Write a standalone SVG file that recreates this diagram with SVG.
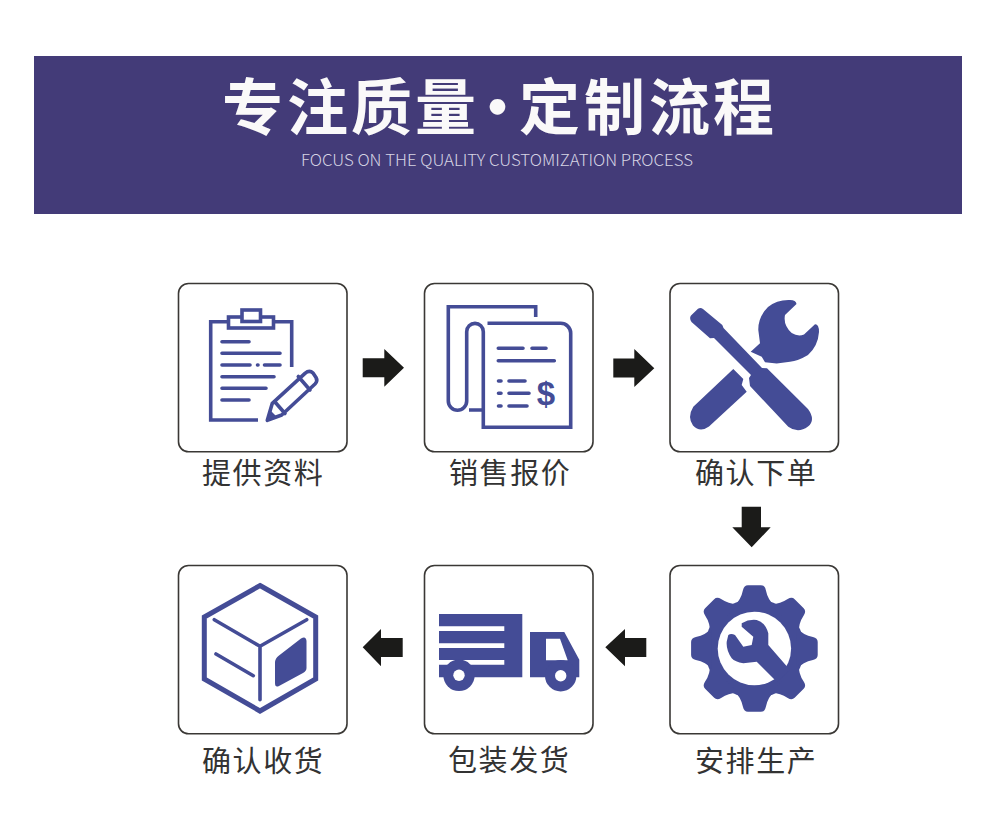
<svg xmlns="http://www.w3.org/2000/svg" xmlns:xlink="http://www.w3.org/1999/xlink" width="1000" height="838" viewBox="0 0 1000 838">
<style>
.box{fill:#fff;stroke:#3a3835;stroke-width:1.6}
.ln{fill:none;stroke:#444c96;stroke-width:3.6;stroke-linecap:round;stroke-linejoin:round}
.ln2{fill:none;stroke:#444c96;stroke-width:3.6;stroke-linecap:butt;stroke-linejoin:miter}
.fi{fill:#444c96}
.arr{fill:#1b1b19}
.lab{font-family:"Noto Sans CJK SC","Liberation Sans",sans-serif;font-size:29px;letter-spacing:1.6px;fill:#333}
</style>
<rect width="1000" height="838" fill="#fff"/>
<g id="banner">
<rect x="34" y="56" width="928" height="158" fill="#433b78"/>
<text x="222 287 351 415 467 519 584 649 713" y="130" font-family="'Noto Sans CJK SC',sans-serif" font-weight="700" font-size="61" fill="#faf9f9">专注质量·定制流程</text>
<text x="301" y="166" textLength="392" lengthAdjust="spacingAndGlyphs" font-family="'Noto Sans CJK SC','Liberation Sans',sans-serif" font-weight="300" font-size="16" fill="#d6d4e4">FOCUS ON THE QUALITY CUSTOMIZATION PROCESS</text>
</g>
<g id="connectors">
<path class="arr" d="M362.7 358.3H384.3V349L404 367.7 384.3 386.7V377.3H362.7Z"/>
<path class="arr" d="M613.3 358.5H634.3V349L654.3 368.3 634.3 387V377.5H613.3Z"/>
<path class="arr" d="M741.7 506.7H761V527.3H770.7L751.7 547.3 732.3 527.3H741.7Z"/>
<path class="arr" d="M646.3 638H625V629L605.3 647.3 625 666.3V657H646.3Z"/>
<path class="arr" d="M402.7 638H381V629L362.7 647.3 381 666.3V657H402.7Z"/>
</g>
<g id="node-1">
<rect class="box" x="178.5" y="283.5" width="168.5" height="168.3" rx="10"/>
<path class="ln2" d="M291.7 367V321.7H274M227.7 321.7H210.7V420H258"/>
<rect class="ln2" x="228.5" y="317" width="45" height="11"/>
<rect class="ln2" x="242" y="310" width="18.5" height="11.5" style="fill:#fff"/>
<path class="ln" d="M222 341.7H249M222 353.3H280M222 365H250M257.5 365H258M264.5 365H280M222 376.7H274M222 388.3H266M222 400H249"/>
<path class="ln" d="M267.3 420.3 272.3 403.3 305 373.3Q309.5 369.5 313 373L316 377.5Q318 381 315 384L281.7 415ZM298.3 376.5 310 390M275 402 285 413.5"/>
<path class="fi" d="M267.3 420.3 270 410 277 417Z"/>
<text class="lab" x="202" y="484">提供资料</text>
</g>
<g id="node-2">
<rect class="box" x="424.5" y="283.5" width="168.5" height="168.3" rx="10"/>
<path class="ln2" d="M535.7 317V306.7H448.3V401A9.2 9.2 0 0 0 466.7 401V331.7A8.3 8.3 0 0 1 483.3 331.7V427.3H570.7V333A10 10 0 0 0 560.7 323.3H487.5M469 410H483.3"/>
<path class="ln" d="M498.3 348.3H523M532 348.3H546M498.3 360.7H554.3M498.5 381H501M509 381H525M498.5 393.3H501M509 393.3H529M498.5 406H501M509 406H527"/>
<text x="546" y="405" text-anchor="middle" font-family="'Liberation Sans',sans-serif" font-weight="700" font-size="33" fill="#444c96">$</text>
<text class="lab" x="449" y="484">销售报价</text>
</g>
<g id="node-3">
<rect class="box" x="670" y="283.5" width="168.5" height="168.3" rx="10"/>
<path class="fi" d="M691 315.5 698 308.8Q700.5 307 703 309L722.3 325 723.5 328 762 368 767 368.3 808 409Q816 420 808 426.5 798 434 788.3 426.7L750 386 749 378 751 375 714 338 710 338.3 691.5 322Q689 318 691 315.5Z"/>
<path class="fi" d="M733.3 369 743.3 379 741.7 385 746.7 391.7 709 426.5Q700 433 693 425.5 687 417 693.3 406.7Z"/>
<path class="fi" d="M750.7 351.7 760 343.3 758.3 330Q758 317 768 307 777 299.5 790 300 796 300 796.5 304L785 315Q783 325 791.7 333 798 337 804 334.5L815 324.3Q819 324 819 332 818 346 808 355 798 361 790 361.7L776.7 363.5 765 362.3 761.7 356.7Z"/>
<text class="lab" x="695" y="484">确认下单</text>
</g>
<g id="node-4">
<rect class="box" x="670" y="565.5" width="168.5" height="168.3" rx="10"/>
<g class="fi">
<circle cx="754.4" cy="648.5" r="49.5"/>
<path id="t" d="M734 606Q741 600 743 590 744 585.2 748 585.2H760.8Q764.8 585.2 765.8 590 767.8 600 774.8 606Z"/>
<use xlink:href="#t" href="#t" transform="rotate(45 754.4 648.5)"/>
<use xlink:href="#t" href="#t" transform="rotate(90 754.4 648.5)"/>
<use xlink:href="#t" href="#t" transform="rotate(135 754.4 648.5)"/>
<use xlink:href="#t" href="#t" transform="rotate(180 754.4 648.5)"/>
<use xlink:href="#t" href="#t" transform="rotate(225 754.4 648.5)"/>
<use xlink:href="#t" href="#t" transform="rotate(270 754.4 648.5)"/>
<use xlink:href="#t" href="#t" transform="rotate(315 754.4 648.5)"/>
</g>
<circle cx="754.4" cy="648.5" r="36.7" fill="#fff"/>
<path class="fi" d="M741.7 623.3Q749 619 756.7 620 765 622 768.3 633.3L768.3 645 790 670 777 682 756.7 661.7 743.3 663.3Q735 662 731.7 658.3 726 650 726.7 641.7L728.3 635Q731 633 735 635L743.3 646.7 751.7 645 753.3 636.7 741.7 626.7Z"/>
<text class="lab" x="695" y="772">安排生产</text>
</g>
<g id="node-5">
<rect class="box" x="424.5" y="565.5" width="168.5" height="168.3" rx="10"/>
<path class="fi" d="M439 614H522.3V677.3H439ZM530 632H564.3L579.3 659.7V677.3H530Z"/>
<path fill="#fff" d="M439 626.3H504.3V631H439ZM439 643.3H504.3V648H439ZM439 660H504.3V664.7H439ZM546 638.7H560L567.7 660.3H546Z"/>
<circle class="fi" cx="459" cy="675.3" r="15.7"/><circle cx="459" cy="675.3" r="5.7" fill="#fff"/>
<circle class="fi" cx="560.7" cy="675.7" r="15.7"/><circle cx="560.7" cy="675.7" r="5.7" fill="#fff"/>
<text class="lab" x="448" y="771">包装发货</text>
</g>
<g id="node-6">
<rect class="box" x="178.5" y="565.5" width="168.5" height="168.3" rx="10"/>
<path fill="none" stroke="#444c96" stroke-width="5" stroke-linejoin="miter" d="M260 585.5 315.7 617V679L260 711 204.3 679V617Z"/>
<path class="ln" d="M214.3 619.7 260 646.3 306.7 619.7M260 646.3V699.7M216 654 253.3 675.7"/>
<path class="fi" d="M275 663Q275 658 279 655.5L301 638.5Q306 635.5 306.5 641V668Q306.5 671 303 673L279 686Q275 688 275 683Z"/>
<text class="lab" x="202" y="772">确认收货</text>
</g>
</svg>
